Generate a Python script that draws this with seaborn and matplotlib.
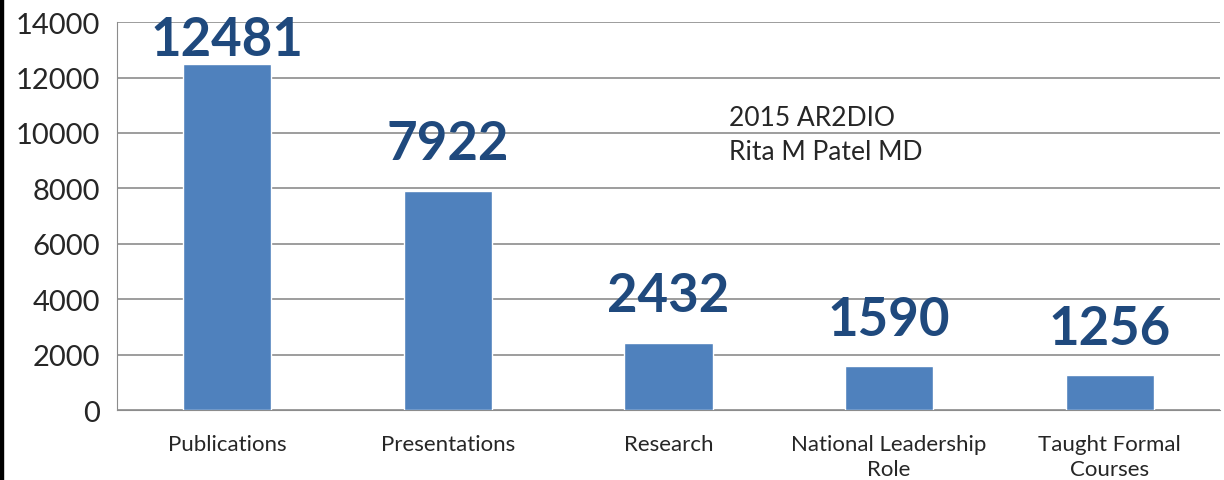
import pandas as pd
import seaborn as sns
import matplotlib.pyplot as plt

categories = ["Publications", "Presentations", "Research",
              "National Leadership\nRole", "Taught Formal\nCourses"]
counts = [12481, 7922, 2432, 1590, 1256]
y_ticks = [0, 2000, 4000, 6000, 8000, 10000, 12000, 14000]

df = pd.DataFrame({"category": categories, "count": counts})

sns.set_style("white")
plt.rcParams["font.family"] = ["Lato", "DejaVu Sans"]

fig = plt.figure(figsize=(12.24, 4.81), dpi=100)
ax = fig.add_axes([0.0956, 0.1455, 0.9011, 0.8065])

sns.barplot(data=df, x="category", y="count", color="#4F81BD",
            saturation=1, width=0.4, ax=ax, zorder=3)

ax.set_ylim(0, 14000)
ax.set_xlim(-0.5, len(categories) - 0.5)
ax.set_yticks(y_ticks)
ax.set_yticklabels([str(t) for t in y_ticks], fontsize=21)
ax.yaxis.grid(True, color="#8C8C8C", linewidth=1.2, zorder=0)
ax.set_xlabel("")
ax.set_ylabel("")

for side in ["top", "right"]:
    ax.spines[side].set_visible(False)
ax.spines["left"].set_color("#8C8C8C")
ax.spines["bottom"].set_color("#8C8C8C")
ax.tick_params(axis="y", length=8, color="#8C8C8C", pad=4)

# category separators as x ticks
ax.set_xticks([i - 0.5 for i in range(len(categories) + 1)], minor=True)
ax.tick_params(axis="x", which="minor", length=8, color="#8C8C8C")
ax.tick_params(axis="x", which="major", length=0, pad=17)
ax.set_xticklabels(categories, fontsize=16, linespacing=1.35)

for i, v in enumerate(counts):
    ty = v + 800 if v + 800 < 12000 else v
    ax.text(i, ty, str(v), ha="center", va="bottom", fontsize=38,
            fontweight="bold", color="#1F497D", zorder=4)

ax.text(0.555, 0.709, "2015 AR2DIO\nRita M Patel MD", transform=ax.transAxes,
        fontsize=19, ha="left", va="center", linespacing=1.45)

fig.patches.append(plt.Rectangle((0, 0), 0.0025, 1, transform=fig.transFigure,
                                 color="black"))

fig.savefig("out.png", dpi=100)
